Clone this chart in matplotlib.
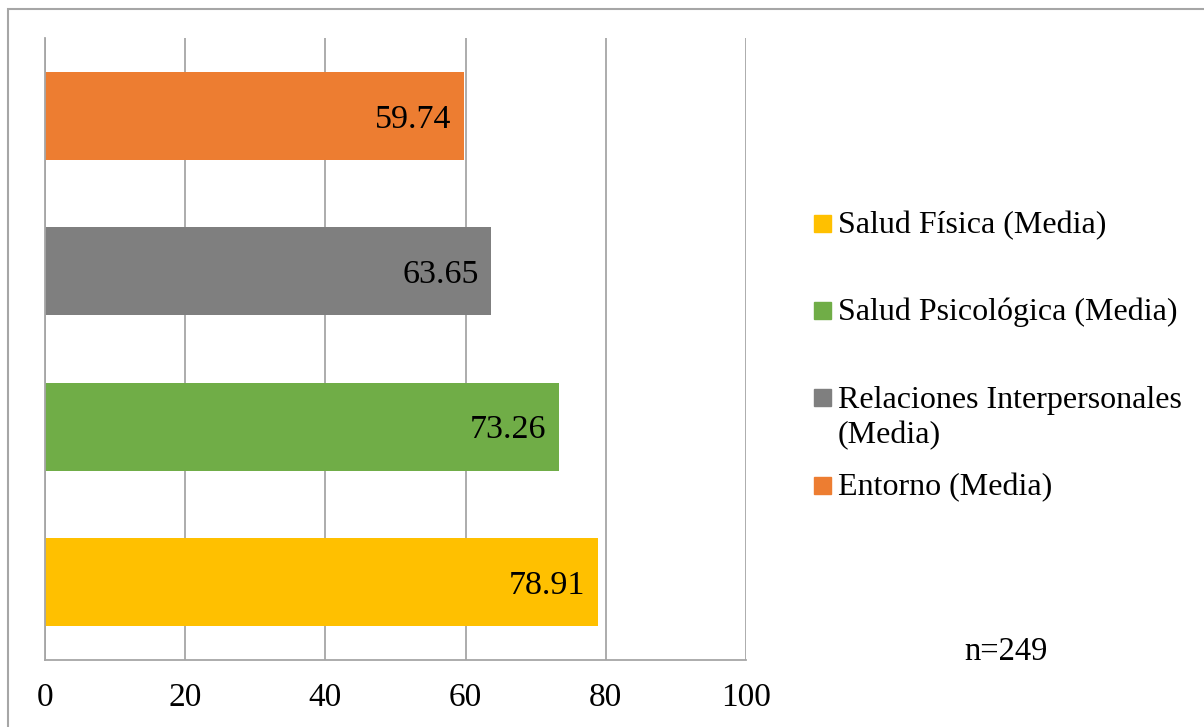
import matplotlib.pyplot as plt
from matplotlib.patches import Rectangle

plt.rcParams['font.family'] = ['Liberation Serif', 'DejaVu Serif']

# Dominios WHOQOL-BREF, de abajo hacia arriba
dominios = ["Salud Física (Media)", "Salud Psicológica (Media)",
            "Relaciones Interpersonales\n(Media)", "Entorno (Media)"]
medias = [78.91, 73.26, 63.65, 59.74]
colores = ["#FFC000", "#70AD47", "#7F7F7F", "#ED7D31"]
xticks = [0, 20, 40, 60, 80, 100]
n_texto = "n=249"

W, H = 1204, 727
fig = plt.figure(figsize=(W / 100, H / 100), dpi=100)

# marco exterior del gráfico
fig.patches.append(Rectangle((8 / W, -0.1), 1, 1.1 - 9 / H, transform=fig.transFigure,
                             fill=False, edgecolor="#a6a6a6", linewidth=1.5))

ax = fig.add_axes([45 / W, 1 - 660 / H, (746 - 45) / W, (660 - 38) / H])
ypos = list(range(len(medias)))
ax.barh(ypos, medias, height=0.566, color=colores, zorder=2)
for y, v in zip(ypos, medias):
    ax.text(v - 1.8, y, f"{v:.2f}", ha="right", va="center_baseline",
            fontsize=24.5, zorder=3)

ax.set_xlim(0, 100)
ax.set_ylim(-0.5, 3.5)
ax.set_xticks(xticks)
ax.set_yticks([])
ax.tick_params(axis="x", length=0, pad=16, labelsize=24)
ax.grid(axis="x", color="#a6a6a6", linewidth=1.3, zorder=0)
for s in ["top", "right"]:
    ax.spines[s].set_visible(False)
for s in ["left", "bottom"]:
    ax.spines[s].set_color("#a6a6a6")
    ax.spines[s].set_linewidth(1.3)

# leyenda dibujada a mano; el baseline se fija en la última línea
leg_y = [223, 310, 397, 485]
paso_linea = 36
for lab, col, yy in zip(dominios, colores, leg_y):
    fig.patches.append(Rectangle((814 / W, 1 - (yy + 8.5) / H), 17 / W, 17 / H,
                                 transform=fig.transFigure, color=col))
    extra = lab.count("\n") * paso_linea
    fig.text(838 / W, 1 - (yy + 10 + extra) / H, lab, ha="left", va="baseline",
             fontsize=23, linespacing=1.24)

fig.text(1006 / W, 1 - 648 / H, n_texto, ha="center", va="center_baseline", fontsize=23.5)

fig.savefig("out.png", dpi=100)
